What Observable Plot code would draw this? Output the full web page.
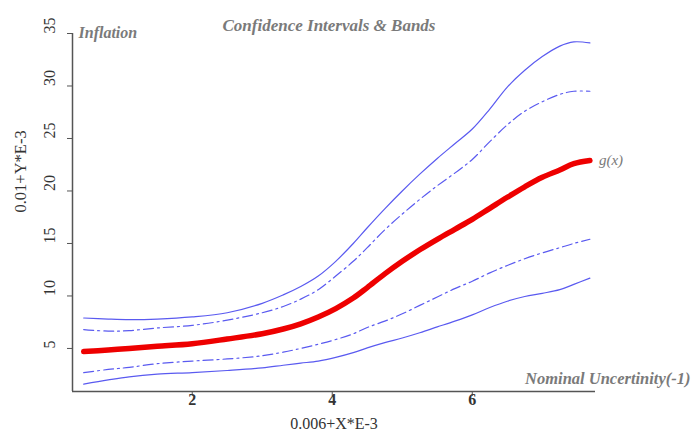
<!DOCTYPE html>
<html><head><meta charset="utf-8">
<script src="https://cdn.jsdelivr.net/npm/d3@7"></script>
<script src="https://cdn.jsdelivr.net/npm/@observablehq/plot@0.6"></script>
<style>body{margin:0;background:#fff;} #chart svg{display:block;}</style>
</head><body><div id="chart"></div>
<script>
const xs = [0.45, 0.8, 1.1, 1.5, 2.0, 2.5, 3.0, 3.3, 3.55, 3.8, 4.05, 4.3, 4.5, 4.75, 5.0, 5.25, 5.5, 5.75, 6.0, 6.25, 6.5, 6.75, 7.0, 7.25, 7.45, 7.68];
const upperBand = [7.9, 7.8, 7.75, 7.8, 8.0, 8.4, 9.3, 10.1, 10.9, 11.9, 13.3, 15.0, 16.5, 18.3, 20.0, 21.6, 23.1, 24.5, 25.9, 27.8, 29.9, 31.5, 32.8, 33.8, 34.2, 34.1];
const upperCI = [6.8, 6.65, 6.7, 6.95, 7.2, 7.7, 8.4, 9.0, 9.7, 10.6, 11.9, 13.3, 14.6, 16.3, 17.8, 19.2, 20.5, 21.7, 23.0, 24.7, 26.3, 27.6, 28.5, 29.2, 29.5, 29.5];
const gx = [4.7, 4.85, 5.0, 5.2, 5.45, 5.9, 6.4, 6.85, 7.35, 8.0, 8.8, 9.8, 10.8, 12.1, 13.3, 14.4, 15.4, 16.35, 17.3, 18.35, 19.4, 20.4, 21.3, 22.0, 22.6, 22.9];
const lowerCI = [2.7, 3.0, 3.2, 3.55, 3.8, 4.0, 4.3, 4.65, 5.0, 5.4, 5.85, 6.4, 7.0, 7.6, 8.3, 9.1, 9.9, 10.7, 11.4, 12.2, 12.9, 13.55, 14.1, 14.6, 15.0, 15.4];
const lowerBand = [1.6, 2.0, 2.3, 2.55, 2.7, 2.9, 3.15, 3.4, 3.6, 3.8, 4.15, 4.6, 5.05, 5.55, 6.0, 6.5, 7.05, 7.6, 8.2, 8.9, 9.5, 9.95, 10.25, 10.6, 11.1, 11.7];
const xTicks = [2, 4, 6];
const yTicks = [5, 10, 15, 20, 25, 30, 35];
const titleText = "Confidence Intervals & Bands";
const xLabel = "0.006+X*E-3";
const yLabel = "0.01+Y*E-3";
const topLeftNote = "Inflation";
const bottomRightNote = "Nominal Uncertinity(-1)";
const curveLabel = "g(x)";

const rows = xs.map((x, i) => ({x, upperBand: upperBand[i], upperCI: upperCI[i], gx: gx[i], lowerCI: lowerCI[i], lowerBand: lowerBand[i]}));
const last = rows[rows.length - 1];

const xDomain = [0.29, 7.76];
const yDomain = [0.9, 35];
const blue = "#5a5af0";
const gray = "#7a7a7a";
const dashDot = "10,4,2,4";
const curve = "catmull-rom";

const chart = Plot.plot({
  width: 692,
  height: 433,
  marginLeft: 72,
  marginRight: 97,
  marginTop: 33,
  marginBottom: 42,
  style: {fontFamily: "'Liberation Serif', 'DejaVu Serif', serif", background: "#fff"},
  x: {domain: xDomain},
  y: {domain: yDomain},
  marks: [
    Plot.ruleX([xDomain[0]], {stroke: "#555", strokeWidth: 1.5}),
    Plot.ruleY([yDomain[0]], {stroke: "#555", strokeWidth: 1.5}),
    Plot.axisX({ticks: xTicks, tickSize: 5, tickPadding: -3, label: null, fontSize: 16, fontWeight: "bold", stroke: "#555", color: "#333"}),
    Plot.axisY({ticks: yTicks, tickSize: 5, label: null, tickFormat: () => "", stroke: "#555"}),
    Plot.text(yTicks, {y: d => d, text: d => String(d), frameAnchor: "left", rotate: -90, dx: -23, fontSize: 16, fill: "#333"}),
    Plot.line(rows, {x: "x", y: "upperBand", stroke: blue, strokeWidth: 1.2, curve}),
    Plot.line(rows, {x: "x", y: "lowerBand", stroke: blue, strokeWidth: 1.2, curve}),
    Plot.line(rows, {x: "x", y: "upperCI", stroke: blue, strokeWidth: 1.2, strokeDasharray: dashDot, curve}),
    Plot.line(rows, {x: "x", y: "lowerCI", stroke: blue, strokeWidth: 1.2, strokeDasharray: dashDot, curve}),
    Plot.line(rows, {x: "x", y: "gx", stroke: "#ee0000", strokeWidth: 5.5, strokeLinecap: "round", curve}),
    Plot.text([last], {x: "x", y: "gx", text: () => curveLabel, dx: 9, textAnchor: "start", fontStyle: "italic", fontSize: 15, fill: gray}),
    Plot.text([titleText], {frameAnchor: "top", dx: -5, dy: -15, fontStyle: "italic", fontWeight: "bold", fontSize: 17, fill: gray}),
    Plot.text([topLeftNote], {frameAnchor: "top-left", dx: 6, dy: -1, lineAnchor: "middle", textAnchor: "start", fontStyle: "italic", fontWeight: "bold", fontSize: 16, fill: gray}),
    Plot.text([bottomRightNote], {frameAnchor: "bottom-right", dx: 95, dy: -13, lineAnchor: "middle", textAnchor: "end", fontStyle: "italic", fontWeight: "bold", fontSize: 16.5, fill: gray}),
    Plot.text([xLabel], {frameAnchor: "bottom", dy: 32, lineAnchor: "middle", fontSize: 16, fill: "#333"}),
    Plot.text([yLabel], {frameAnchor: "left", dx: -52, rotate: -90, fontSize: 16.5, fill: "#333"})
  ]
});
document.getElementById("chart").appendChild(chart);
</script>
</body></html>
